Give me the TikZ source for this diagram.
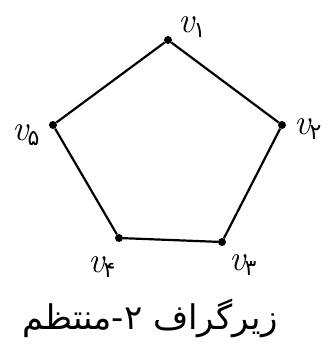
\documentclass[tikz,border=0pt]{standalone}
\usepackage{fontspec}
\newfontfamily\arabicfont[Script=Arabic]{DejaVu Sans}
\TeXXeTstate=1
\tikzset{
  vtx/.style={circle,fill=black,inner sep=0pt,minimum size=8pt},
  edge/.style={line width=2.2pt},
  lbl/.style={font=\fontsize{36}{38}\selectfont\itshape,inner sep=0pt}
}
\newcommand{\pv}[1]{v\kern-1pt\raisebox{-0.35ex}{\upshape\arabicfont\fontsize{22}{24}\selectfont #1}}
\begin{document}
\begin{tikzpicture}[x=1pt,y=-1pt]
\useasboundingbox (0,0) rectangle (331,361);
\node[vtx] (v1) at (168,40) {};
\node[vtx] (v2) at (282,125) {};
\node[vtx] (v3) at (222,242) {};
\node[vtx] (v4) at (119,238) {};
\node[vtx] (v5) at (53,125) {};
\draw[edge] (v1) -- (v2) -- (v3) -- (v4) -- (v5) -- (v1);
\node[lbl] (l1) at (192,27) {\pv{۱}};
\node[lbl] (l2) at (308,129) {\pv{۲}};
\node[lbl] (l3) at (243,265) {\pv{۳}};
\node[lbl] (l4) at (102,267) {\pv{۴}};
\node[lbl] (l5) at (26,135) {\pv{۵}};
\node[font=\arabicfont\fontsize{34}{38}\selectfont] (cap) at (150,318) {\beginR زیرگراف ۲-منتظم\endR};
\end{tikzpicture}
\end{document}
